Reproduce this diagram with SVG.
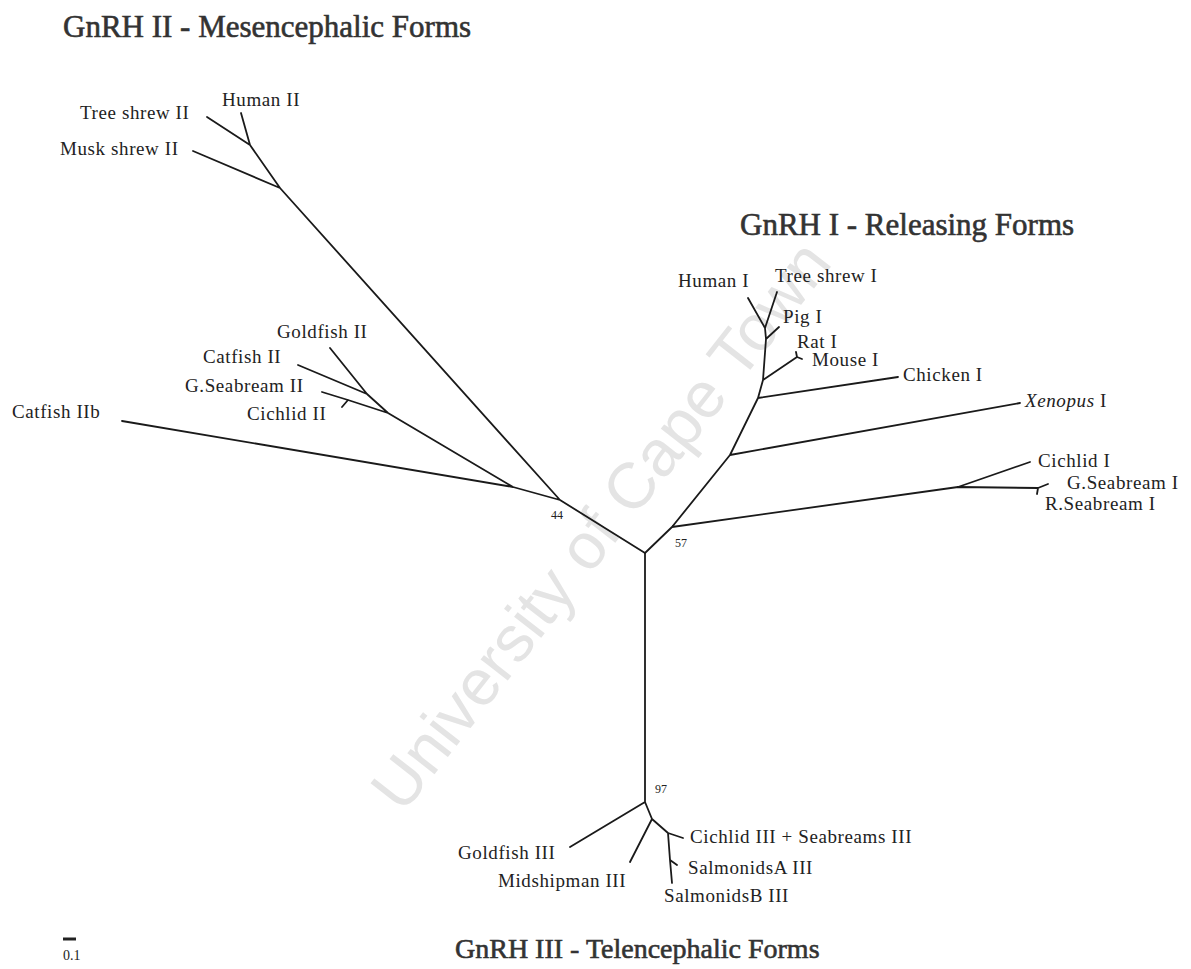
<svg xmlns="http://www.w3.org/2000/svg" width="1191" height="969" viewBox="0 0 1191 969">
<style>
.t{font-family:"Liberation Serif","Times New Roman",serif;font-size:19px;letter-spacing:0.6px;fill:#222}
.h{font-family:"Liberation Serif","Times New Roman",serif;font-size:31px;fill:#333;stroke:#333;stroke-width:0.6}
.n{font-family:"Liberation Serif","Times New Roman",serif;font-size:12px;fill:#222}
.e{stroke:#1a1a1a;stroke-width:1.8;fill:none;stroke-linecap:round;stroke-linejoin:round}
.wm{font-family:"Liberation Sans",Arial,sans-serif;font-size:65px;fill:#e4e4e4}
</style>
<rect width="1191" height="969" fill="#fff"/>
<g id="watermark"><text class="wm" x="600" y="548" text-anchor="middle" transform="rotate(-52 600 525)">University of Cape Town</text></g>
<g id="titles">
<text class="h" x="63" y="37">GnRH II - Mesencephalic Forms</text>
<text class="h" x="740" y="235">GnRH I - Releasing Forms</text>
<text class="h" x="455" y="958" style="font-size:28px">GnRH III - Telencephalic Forms</text>
</g>
<g id="connectors" class="e">
<path d="M645,553 L645,802 M645,802 L570,847 M645,802 L652,819 L630,862 M652,819 L668,833 L683,838 M668,833 L670,860 L677,865 M670,860 L672,883"/>
<path d="M645,553 L560,500 L513,487 L122,421 M513,487 L388,413 L367,394 L330,348 M367,394 L298,365 M388,413 L348,400 L322,392 M348,400 L342,407 M560,500 L280,188 L193,151 M280,188 L250,145 L207,117 M250,145 L241,113"/>
<path d="M645,553 L672,527 L958,487 L1030,462 M958,487 L1038,488 L1048,484 M1038,488 L1037,494 M672,527 L730,455 L1020,403 M730,455 L758,398 L898,377 M758,398 L763,380 L797,357 L796,352 M797,357 L802,359 M763,380 L766,339 L779,327 M766,339 L765,328 L748,298 M765,328 L777,292"/>
</g>
<g id="node-human-ii"><text class="t" x="222" y="106">Human II</text></g>
<g id="node-tree-shrew-ii"><text class="t" x="80" y="119">Tree shrew II</text></g>
<g id="node-musk-shrew-ii"><text class="t" x="60" y="155">Musk shrew II</text></g>
<g id="node-goldfish-ii"><text class="t" x="277" y="338">Goldfish II</text></g>
<g id="node-catfish-ii"><text class="t" x="203" y="363">Catfish II</text></g>
<g id="node-gseabream-ii"><text class="t" x="185" y="392">G.Seabream II</text></g>
<g id="node-cichlid-ii"><text class="t" x="247" y="420">Cichlid II</text></g>
<g id="node-catfish-iib"><text class="t" x="12" y="418">Catfish IIb</text></g>
<g id="node-human-i"><text class="t" x="678" y="287">Human I</text></g>
<g id="node-tree-shrew-i"><text class="t" x="775" y="282">Tree shrew I</text></g>
<g id="node-pig-i"><text class="t" x="783" y="323">Pig I</text></g>
<g id="node-rat-i"><text class="t" x="797" y="348">Rat I</text></g>
<g id="node-mouse-i"><text class="t" x="812" y="366">Mouse I</text></g>
<g id="node-chicken-i"><text class="t" x="903" y="381">Chicken I</text></g>
<g id="node-xenopus-i"><text class="t" x="1025" y="407"><tspan font-style="italic">Xenopus</tspan> I</text></g>
<g id="node-cichlid-i"><text class="t" x="1038" y="467">Cichlid I</text></g>
<g id="node-gseabream-i"><text class="t" x="1067" y="489">G.Seabream I</text></g>
<g id="node-rseabream-i"><text class="t" x="1045" y="510">R.Seabream I</text></g>
<g id="node-goldfish-iii"><text class="t" x="458" y="859">Goldfish III</text></g>
<g id="node-midshipman-iii"><text class="t" x="498" y="887">Midshipman III</text></g>
<g id="node-cichlid-iii"><text class="t" x="690" y="843">Cichlid III + Seabreams III</text></g>
<g id="node-salmonidsa-iii"><text class="t" x="688" y="874">SalmonidsA III</text></g>
<g id="node-salmonidsb-iii"><text class="t" x="664" y="902">SalmonidsB III</text></g>
<g id="bootstrap">
<text class="n" x="551" y="519">44</text>
<text class="n" x="675" y="547">57</text>
<text class="n" x="655" y="793">97</text>
</g>
<g id="scale">
<line x1="63" y1="939" x2="76" y2="939" stroke="#222" stroke-width="3"/>
<text class="n" x="63" y="960" style="font-size:14px">0.1</text>
</g>
</svg>
